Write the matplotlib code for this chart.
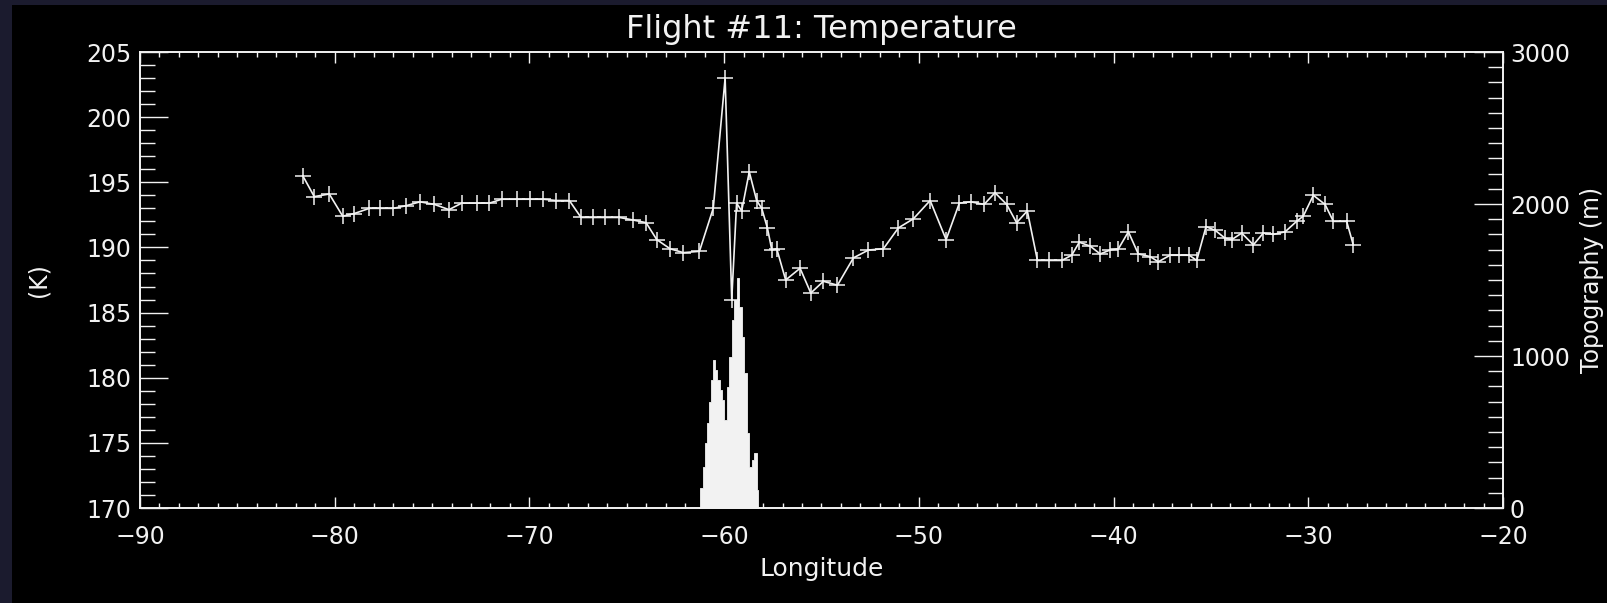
import numpy as np
import matplotlib
matplotlib.use("Agg")
import matplotlib.pyplot as plt
from matplotlib.ticker import MultipleLocator
from matplotlib.patches import Rectangle

# temperature along flight track
lon = [-81.64, -81.05, -80.28, -79.59, -79.00, -78.22, -77.67, -76.99, -76.34,
       -75.62, -74.88, -74.13, -73.48, -72.71, -72.06, -71.42, -70.65, -69.97,
       -69.28, -68.63, -67.95, -67.35, -66.75, -66.12, -65.38, -64.66, -64.01,
       -63.46, -62.78, -62.10, -61.27, -60.56, -59.95, -59.61, -59.36, -59.10,
       -58.71, -58.33, -58.07, -57.78, -57.55, -57.30, -56.84, -56.10, -55.55,
       -54.90, -54.18, -53.36, -52.59, -51.82, -51.05, -50.28, -49.42, -48.60,
       -47.92, -47.34, -46.65, -46.09, -45.49, -44.98, -44.43, -43.91, -43.30,
       -42.66, -42.15, -41.76, -41.20, -40.69, -40.18, -39.75, -39.24, -38.73,
       -38.13, -37.70, -37.10, -36.62, -36.11, -35.73, -35.25, -34.77, -34.27,
       -33.93, -33.42, -32.82, -32.31, -31.79, -31.19, -30.60, -30.26, -29.74,
       -29.14, -28.71, -28.03, -27.69]
temp = [195.5, 193.9, 194.1, 192.4, 192.6, 193.0, 193.0, 193.0, 193.2,
        193.5, 193.3, 192.9, 193.4, 193.4, 193.4, 193.7, 193.7, 193.7,
        193.7, 193.6, 193.6, 192.3, 192.3, 192.3, 192.3, 192.1, 191.9,
        190.6, 189.9, 189.6, 189.7, 193.0, 203.0, 186.0, 193.4, 192.8,
        195.8, 193.6, 193.0, 191.5, 189.8, 189.9, 187.5, 188.4, 186.5,
        187.4, 187.1, 189.2, 189.8, 189.9, 191.5, 192.2, 193.6, 190.6,
        193.4, 193.5, 193.3, 194.2, 193.3, 191.9, 192.8, 189.0, 189.0,
        189.0, 189.4, 190.4, 190.1, 189.5, 189.8, 189.9, 191.2, 189.5,
        189.3, 188.9, 189.4, 189.4, 189.4, 189.0, 191.6, 191.3, 190.7,
        190.6, 191.1, 190.2, 191.1, 191.0, 191.2, 192.0, 192.4, 194.0,
        193.3, 192.0, 192.0, 190.2]

# topography under the track (m)
topo_lon = [-61.30, -61.24, -61.10, -60.98, -60.86, -60.78, -60.67, -60.59,
            -60.47, -60.35, -60.21, -60.09, -59.99, -59.87, -59.73, -59.61,
            -59.49, -59.35, -59.22, -59.10, -58.96, -58.84, -58.72, -58.58,
            -58.47, -58.33, -58.25]
topo_h = [0, 132, 272, 425, 557, 700, 842, 974, 908, 842, 776, 711, 579,
          798, 995, 1237, 1368, 1511, 1324, 1127, 886, 491, 272, 316, 360,
          118, 0]

FG = "#f2f2f2"
W, H = 1608, 603

fig = plt.figure(figsize=(W / 100, H / 100), dpi=100)
fig.patch.set_facecolor("#1b1b2e")
fig.add_artist(Rectangle((12 / W, 0), 1, 598 / H, transform=fig.transFigure,
                         facecolor="black", edgecolor="none", zorder=0))
plt.rcParams["font.family"] = "DejaVu Sans"

ax = fig.add_axes([140 / W, (H - 508) / H, 1363 / W, 456 / H])
ax2 = ax.twinx()
ax.set_zorder(ax2.get_zorder() + 1)
ax.patch.set_visible(False)
ax2.patch.set_facecolor("black")

ax2.fill_between(topo_lon, topo_h, 0, step="post", facecolor=FG,
                 edgecolor=FG, linewidth=0.6)
ax2.set_ylim(0, 3000)

ax.plot(lon, temp, color=FG, linewidth=1.2, marker="+", markersize=12,
        markeredgewidth=1.1)
ax.set_xlim(-90, -20)
ax.set_ylim(170, 205)

ax.xaxis.set_major_locator(MultipleLocator(10))
ax.xaxis.set_minor_locator(MultipleLocator(1))
ax.yaxis.set_major_locator(MultipleLocator(5))
ax.yaxis.set_minor_locator(MultipleLocator(1))
ax2.yaxis.set_major_locator(MultipleLocator(1000))
ax2.yaxis.set_minor_locator(MultipleLocator(100))

ax.tick_params(axis="x", which="major", direction="in", length=8, width=1.0,
               top=True, color=FG, labelcolor=FG, labelsize=17, pad=12)
ax.tick_params(axis="x", which="minor", direction="in", length=3.5,
               width=1.0, top=True, color=FG)
ax.tick_params(axis="y", which="major", direction="in", length=20, width=1.0,
               right=False, color=FG, labelcolor=FG, labelsize=17, pad=6)
ax.tick_params(axis="y", which="minor", direction="in", length=11,
               width=1.0, right=False, color=FG)
ax2.tick_params(axis="y", which="major", direction="in", length=21,
                width=1.0, color=FG, labelcolor=FG, labelsize=17, pad=5)
ax2.tick_params(axis="y", which="minor", direction="in", length=11,
                width=1.0, color=FG)

for a in (ax, ax2):
    for s in a.spines.values():
        s.set_color(FG)
        s.set_linewidth(1.2)

fig.text(821 / W, 1 - 38 / H, "Flight #11: Temperature", color=FG,
         fontsize=23, ha="center", va="baseline")
ax.set_xlabel("Longitude", color=FG, fontsize=18, labelpad=6)
ax.set_ylabel("(K)", color=FG, fontsize=17)
ax.yaxis.set_label_coords(-0.066, 0.5)
fig.text(1592 / W, 1 - 280 / H, "Topography (m)", color=FG, fontsize=17,
         rotation=90, ha="center", va="center")

fig.savefig("out.png", dpi=100, facecolor=fig.get_facecolor())
